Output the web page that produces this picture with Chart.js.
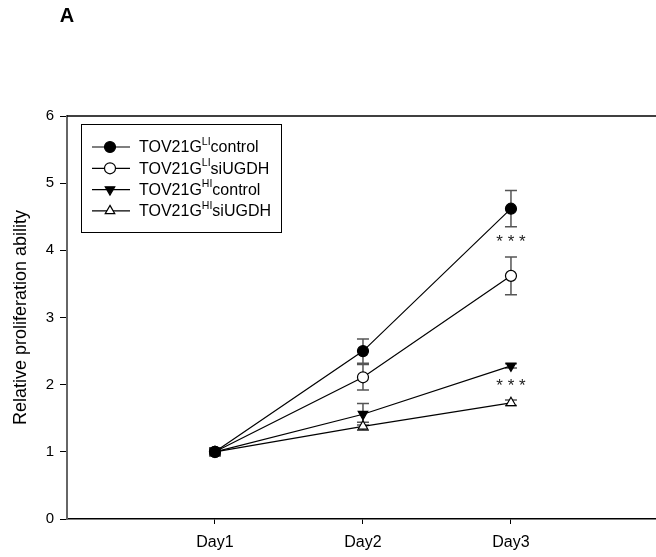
<!DOCTYPE html>
<html>
<head>
<meta charset="utf-8">
<script src="https://cdn.jsdelivr.net/npm/chart.js@4.4.1/dist/chart.umd.min.js"></script>
<style>
  html, body { margin: 0; padding: 0; background: #fff; }
  canvas { display: block; }
</style>
</head>
<body>
<canvas id="chart" width="656" height="557"></canvas>
<script>
// data
const days = [1, 2, 3];
const dayLabels = ['Day1', 'Day2', 'Day3'];
const yTicks = [0, 1, 2, 3, 4, 5, 6];

const liControl = [1.0, 2.50, 4.62];
const liControlErr = [0.06, 0.18, 0.27];
const liSi = [1.0, 2.11, 3.62];
const liSiErr = [0.06, 0.19, 0.28];
const hiControl = [1.0, 1.56, 2.28];
const hiControlErr = [0.05, 0.16, 0.03];
const hiSi = [1.0, 1.38, 1.73];
const hiSiErr = [0.05, 0.06, 0.04];

// significance marks: [day, y]
const stars = [[3, 4.16], [3, 2.02]];

const legendBase = ['TOV21G', 'TOV21G', 'TOV21G', 'TOV21G'];
const legendSup = ['LI', 'LI', 'HI', 'HI'];
const legendTail = ['control', 'siUGDH', 'control', 'siUGDH'];

const FONT = 'Arial, "Liberation Sans", sans-serif';

function series(values, errs, fill, style, rotation) {
  return {
    data: days.map((d, i) => ({ x: d, y: values[i] })),
    errors: errs,
    borderColor: '#000',
    borderWidth: 1.2,
    pointStyle: style,
    rotation: rotation,
    pointRadius: 5.5,
    pointBorderWidth: 1.2,
    pointBackgroundColor: fill,
    pointBorderColor: '#000',
    tension: 0,
    clip: false
  };
}

const datasets = [
  series(liControl, liControlErr, '#000', 'circle', 0),
  series(liSi, liSiErr, '#fff', 'circle', 0),
  series(hiControl, hiControlErr, '#000', 'triangle', 180),
  series(hiSi, hiSiErr, '#fff', 'triangle', 0)
];

const errorBars = {
  id: 'errorBars',
  beforeDatasetsDraw(chart) {
    const { ctx, scales: { x, y } } = chart;
    ctx.save();
    ctx.strokeStyle = '#555';
    ctx.lineWidth = 1.5;
    chart.data.datasets.forEach(ds => {
      ds.data.forEach((p, i) => {
        const e = ds.errors[i];
        const px = x.getPixelForValue(p.x);
        const top = y.getPixelForValue(p.y + e);
        const bot = y.getPixelForValue(p.y - e);
        ctx.beginPath();
        ctx.moveTo(px, top); ctx.lineTo(px, bot);
        ctx.moveTo(px - 6, top); ctx.lineTo(px + 6, top);
        ctx.moveTo(px - 6, bot); ctx.lineTo(px + 6, bot);
        ctx.stroke();
      });
    });
    ctx.restore();
  }
};

const extras = {
  id: 'extras',
  afterDraw(chart) {
    const { ctx, chartArea: a, scales: { x, y } } = chart;
    ctx.save();
    // top frame line
    ctx.strokeStyle = '#000';
    ctx.lineWidth = 1.5;
    ctx.beginPath();
    ctx.moveTo(a.left, a.top);
    ctx.lineTo(chart.width, a.top);
    ctx.stroke();

    // panel letter
    ctx.fillStyle = '#000';
    ctx.font = 'bold 20px ' + FONT;
    ctx.textAlign = 'center';
    ctx.textBaseline = 'middle';
    ctx.fillText('A', 67, 16);

    // significance stars
    ctx.font = '17px ' + FONT;
    ctx.fillStyle = '#222';
    stars.forEach(s => {
      ctx.fillText('* * *', x.getPixelForValue(s[0]), y.getPixelForValue(s[1]) + 3);
    });

    // legend box
    const bx = 81, by = 124, bw = 200, bh = 108, rowH = 21.3;
    ctx.strokeStyle = '#000';
    ctx.lineWidth = 1;
    ctx.strokeRect(bx + 0.5, by + 0.5, bw, bh);
    chart.data.datasets.forEach((ds, i) => {
      const ry = 147 + i * rowH;
      ctx.strokeStyle = '#000';
      ctx.lineWidth = 1.2;
      ctx.beginPath();
      ctx.moveTo(92, ry); ctx.lineTo(130, ry);
      ctx.stroke();
      ctx.fillStyle = ds.pointBackgroundColor;
      Chart.helpers.drawPoint(ctx, {
        pointStyle: ds.pointStyle, rotation: ds.rotation, radius: 5.5, borderWidth: 1.2
      }, 110, ry);

      ctx.fillStyle = '#000';
      ctx.textAlign = 'left';
      ctx.textBaseline = 'middle';
      let tx = 139;
      ctx.font = '16px ' + FONT;
      ctx.fillText(legendBase[i], tx, ry + 1);
      tx += ctx.measureText(legendBase[i]).width;
      ctx.font = '10.5px ' + FONT;
      ctx.fillText(legendSup[i], tx, ry - 5);
      tx += ctx.measureText(legendSup[i]).width;
      ctx.font = '16px ' + FONT;
      ctx.fillText(legendTail[i], tx, ry + 1);
    });
    ctx.restore();
  }
};

new Chart(document.getElementById('chart'), {
  type: 'line',
  data: { datasets: datasets },
  options: {
    responsive: false,
    animation: false,
    devicePixelRatio: 1,
    layout: { autoPadding: false, padding: { top: 116, right: 0, left: 0, bottom: 0 } },
    plugins: {
      legend: { display: false },
      tooltip: { enabled: false }
    },
    scales: {
      x: {
        type: 'linear',
        min: 0,
        max: 3.98,
        afterBuildTicks: s => { s.ticks = days.map(v => ({ value: v })); },
        afterFit: s => { s.height = 38; },
        grid: { drawOnChartArea: false, tickLength: 5, color: '#000', lineWidth: 1 },
        border: { color: '#000', width: 1.5 },
        ticks: {
          color: '#000',
          font: { family: FONT, size: 16 },
          padding: 9,
          maxRotation: 0,
          callback: v => dayLabels[days.indexOf(v)] || ''
        }
      },
      y: {
        min: 0,
        max: 6,
        afterBuildTicks: s => { s.ticks = yTicks.map(v => ({ value: v })); },
        afterFit: s => { s.width = 67; },
        grid: { drawOnChartArea: false, tickLength: 7, color: '#000', lineWidth: 1 },
        border: { color: '#666', width: 2 },
        ticks: {
          color: '#000',
          font: { family: FONT, size: 15 },
          padding: 6
        },
        title: {
          display: true,
          text: 'Relative proliferation ability',
          color: '#000',
          font: { family: FONT, size: 18 },
          padding: { top: 10, bottom: 4 }
        }
      }
    }
  },
  plugins: [errorBars, extras]
});
</script>
</body>
</html>
